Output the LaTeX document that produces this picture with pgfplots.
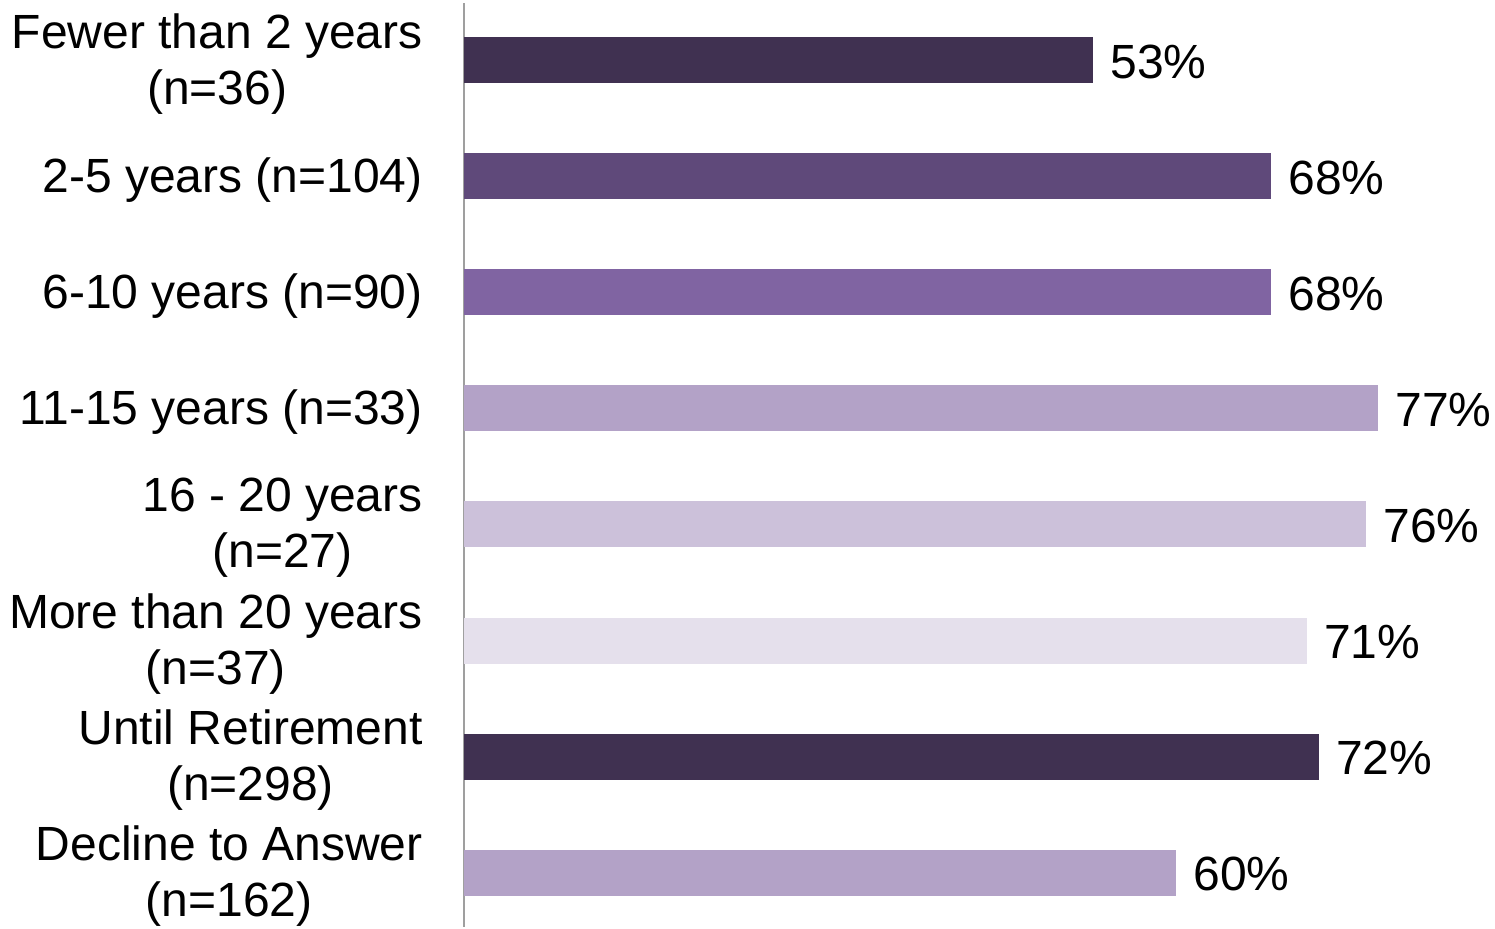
\documentclass[border=0pt]{standalone}
\usepackage{fontspec}
\setmainfont{Liberation Sans}
\usepackage{pgfplots}
\pgfplotsset{compat=1.18}
\definecolor{c1}{HTML}{403151}
\definecolor{c2}{HTML}{5F497A}
\definecolor{c3}{HTML}{8064A2}
\definecolor{c4}{HTML}{B3A2C7}
\definecolor{c5}{HTML}{CCC1DA}
\definecolor{c6}{HTML}{E5E0EC}
\begin{document}
\begin{tikzpicture}
\begin{axis}[
  scale only axis,
  width=515.5pt, height=462pt,
  xmin=0, xmax=86.86,
  ymin=-0.491, ymax=7.467,
  y dir=reverse,
  xbar, bar width=23pt, bar shift=0pt,
  axis x line=none,
  axis y line*=left,
  y axis line style={draw=gray!75, line width=1pt, -},
  ytick={0,1,2,3,4,5,6,7},
  yticklabels={{Fewer than 2 years\\(n=36)},{2-5 years (n=104)},{6-10 years (n=90)},{11-15 years (n=33)},{16 - 20 years\\(n=27)},{More than 20 years\\(n=37)},{Until Retirement\\(n=298)},{Decline to Answer\\(n=162)}},
  yticklabel style={align=center, inner sep=0pt, xshift=-20.5pt, yshift=-1.8pt, font=\fontsize{24}{28}\selectfont},
  major tick length=0pt,
  tick style={draw=none},
  clip=false,
  point meta=x,
  /pgf/number format/assume math mode=true,
  nodes near coords={\pgfmathprintnumber{\pgfplotspointmeta}\%},
  every node near coord/.append style={anchor=west, inner sep=0pt, xshift=8.5pt, yshift=-0.8pt, font=\fontsize{24}{28}\selectfont, text=black},
]
\addplot[fill=c1, draw=none] coordinates {(53,0)};
\addplot[fill=c2, draw=none] coordinates {(68,1)};
\addplot[fill=c3, draw=none] coordinates {(68,2)};
\addplot[fill=c4, draw=none] coordinates {(77,3)};
\addplot[fill=c5, draw=none] coordinates {(76,4)};
\addplot[fill=c6, draw=none] coordinates {(71,5)};
\addplot[fill=c1, draw=none] coordinates {(72,6)};
\addplot[fill=c4, draw=none] coordinates {(60,7)};
\end{axis}
\path (current axis.south west) ++(-232pt,0pt) rectangle ([yshift=1.5pt]current axis.north east);
\end{tikzpicture}
\end{document}
